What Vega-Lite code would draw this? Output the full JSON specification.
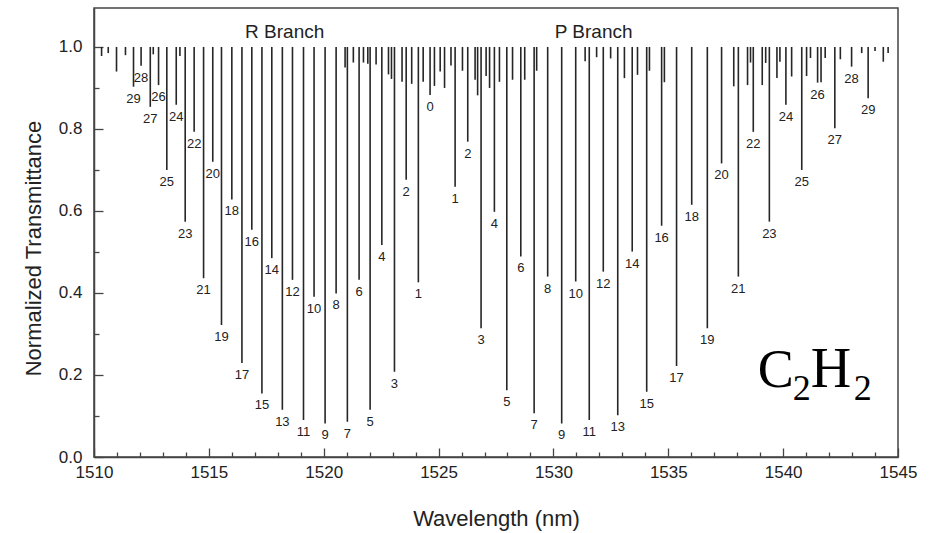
{
  "$schema": "https://vega.github.io/schema/vega-lite/v6.json",
  "width": 804,
  "height": 449,
  "autosize": {"type": "none"},
  "padding": {"left": 94, "top": 8, "right": 37, "bottom": 76},
  "background": "white",
  "config": {
    "view": {"stroke": "#444444", "strokeWidth": 1.5},
    "font": "Liberation Sans",
    "axis": {"domainColor": "#444444", "domainWidth": 1.5, "tickColor": "#444444", "tickWidth": 1.3, "grid": false, "labelColor": "#222222", "titleColor": "#222222", "titleFontWeight": "normal", "labelFont": "Liberation Sans", "titleFont": "Liberation Sans"}
  },
  "datasets": {
    "lines": [
      {"wl": 1510.33, "t": 0.978, "J": null},
      {"wl": 1510.62, "t": 0.985, "J": null},
      {"wl": 1510.98, "t": 0.94, "J": null},
      {"wl": 1511.37, "t": 0.98, "J": null},
      {"wl": 1511.72, "t": 0.903, "J": "29"},
      {"wl": 1512.05, "t": 0.954, "J": "28"},
      {"wl": 1512.45, "t": 0.854, "J": "27"},
      {"wl": 1512.58, "t": 0.982, "J": null},
      {"wl": 1512.81, "t": 0.907, "J": "26"},
      {"wl": 1513.17, "t": 0.7, "J": "25"},
      {"wl": 1513.58, "t": 0.859, "J": "24"},
      {"wl": 1513.74, "t": 0.978, "J": null},
      {"wl": 1513.97, "t": 0.574, "J": "23"},
      {"wl": 1514.36, "t": 0.793, "J": "22"},
      {"wl": 1514.77, "t": 0.436, "J": "21"},
      {"wl": 1515.17, "t": 0.72, "J": "20"},
      {"wl": 1515.55, "t": 0.322, "J": "19"},
      {"wl": 1516.0, "t": 0.628, "J": "18"},
      {"wl": 1516.44, "t": 0.229, "J": "17"},
      {"wl": 1516.87, "t": 0.554, "J": "16"},
      {"wl": 1517.31, "t": 0.155, "J": "15"},
      {"wl": 1517.74, "t": 0.485, "J": "14"},
      {"wl": 1518.2, "t": 0.115, "J": "13"},
      {"wl": 1518.64, "t": 0.432, "J": "12"},
      {"wl": 1519.12, "t": 0.09, "J": "11"},
      {"wl": 1519.58, "t": 0.391, "J": "10"},
      {"wl": 1520.06, "t": 0.082, "J": "9"},
      {"wl": 1520.54, "t": 0.399, "J": "8"},
      {"wl": 1520.93, "t": 0.95, "J": null},
      {"wl": 1521.03, "t": 0.086, "J": "7"},
      {"wl": 1521.29, "t": 0.962, "J": null},
      {"wl": 1521.54, "t": 0.432, "J": "6"},
      {"wl": 1521.73, "t": 0.962, "J": null},
      {"wl": 1521.92, "t": 0.959, "J": null},
      {"wl": 1522.02, "t": 0.115, "J": "5"},
      {"wl": 1522.28, "t": 0.957, "J": null},
      {"wl": 1522.53, "t": 0.517, "J": "4"},
      {"wl": 1522.82, "t": 0.933, "J": null},
      {"wl": 1522.95, "t": 0.922, "J": null},
      {"wl": 1523.08, "t": 0.208, "J": "3"},
      {"wl": 1523.41, "t": 0.915, "J": null},
      {"wl": 1523.59, "t": 0.676, "J": "2"},
      {"wl": 1523.83, "t": 0.91, "J": null},
      {"wl": 1524.12, "t": 0.426, "J": "1"},
      {"wl": 1524.33, "t": 0.915, "J": null},
      {"wl": 1524.63, "t": 0.883, "J": "0"},
      {"wl": 1524.82, "t": 0.905, "J": null},
      {"wl": 1525.07, "t": 0.94, "J": null},
      {"wl": 1525.26, "t": 0.9, "J": null},
      {"wl": 1525.54, "t": 0.955, "J": null},
      {"wl": 1525.72, "t": 0.659, "J": "1"},
      {"wl": 1526.04, "t": 0.942, "J": null},
      {"wl": 1526.27, "t": 0.769, "J": "2"},
      {"wl": 1526.59, "t": 0.92, "J": null},
      {"wl": 1526.7, "t": 0.882, "J": null},
      {"wl": 1526.85, "t": 0.314, "J": "3"},
      {"wl": 1527.07, "t": 0.929, "J": null},
      {"wl": 1527.22, "t": 0.9, "J": null},
      {"wl": 1527.43, "t": 0.598, "J": "4"},
      {"wl": 1527.65, "t": 0.915, "J": null},
      {"wl": 1527.97, "t": 0.163, "J": "5"},
      {"wl": 1528.22, "t": 0.92, "J": null},
      {"wl": 1528.58, "t": 0.489, "J": "6"},
      {"wl": 1528.75, "t": 0.92, "J": null},
      {"wl": 1529.16, "t": 0.107, "J": "7"},
      {"wl": 1529.27, "t": 0.942, "J": null},
      {"wl": 1529.75, "t": 0.44, "J": "8"},
      {"wl": 1530.36, "t": 0.082, "J": "9"},
      {"wl": 1530.97, "t": 0.428, "J": "10"},
      {"wl": 1531.38, "t": 0.965, "J": null},
      {"wl": 1531.56, "t": 0.09, "J": "11"},
      {"wl": 1531.88, "t": 0.975, "J": null},
      {"wl": 1532.17, "t": 0.452, "J": "12"},
      {"wl": 1532.49, "t": 0.972, "J": null},
      {"wl": 1532.8, "t": 0.102, "J": "13"},
      {"wl": 1533.09, "t": 0.924, "J": null},
      {"wl": 1533.43, "t": 0.501, "J": "14"},
      {"wl": 1533.66, "t": 0.932, "J": null},
      {"wl": 1534.06, "t": 0.159, "J": "15"},
      {"wl": 1534.18, "t": 0.942, "J": null},
      {"wl": 1534.71, "t": 0.564, "J": "16"},
      {"wl": 1534.83, "t": 0.914, "J": null},
      {"wl": 1535.36, "t": 0.222, "J": "17"},
      {"wl": 1536.02, "t": 0.615, "J": "18"},
      {"wl": 1536.7, "t": 0.314, "J": "19"},
      {"wl": 1537.32, "t": 0.716, "J": "20"},
      {"wl": 1537.85, "t": 0.904, "J": null},
      {"wl": 1538.05, "t": 0.44, "J": "21"},
      {"wl": 1538.45, "t": 0.907, "J": null},
      {"wl": 1538.58, "t": 0.962, "J": null},
      {"wl": 1538.7, "t": 0.793, "J": "22"},
      {"wl": 1539.09, "t": 0.907, "J": null},
      {"wl": 1539.24, "t": 0.961, "J": null},
      {"wl": 1539.4, "t": 0.574, "J": "23"},
      {"wl": 1539.73, "t": 0.924, "J": null},
      {"wl": 1539.86, "t": 0.964, "J": null},
      {"wl": 1540.12, "t": 0.859, "J": "24"},
      {"wl": 1540.37, "t": 0.928, "J": null},
      {"wl": 1540.81, "t": 0.7, "J": "25"},
      {"wl": 1541.02, "t": 0.929, "J": null},
      {"wl": 1541.19, "t": 0.973, "J": null},
      {"wl": 1541.5, "t": 0.913, "J": "26"},
      {"wl": 1541.65, "t": 0.914, "J": null},
      {"wl": 1541.83, "t": 0.973, "J": null},
      {"wl": 1542.25, "t": 0.802, "J": "27"},
      {"wl": 1542.49, "t": 0.97, "J": null},
      {"wl": 1542.98, "t": 0.952, "J": "28"},
      {"wl": 1543.42, "t": 0.985, "J": null},
      {"wl": 1543.7, "t": 0.875, "J": "29"},
      {"wl": 1544.0, "t": 0.99, "J": null},
      {"wl": 1544.36, "t": 0.964, "J": null},
      {"wl": 1544.57, "t": 0.985, "J": null}
    ],
    "branches": [
      {"name": "R Branch", "wl": 1518.3, "t": 1.023},
      {"name": "P Branch", "wl": 1531.75, "t": 1.023}
    ],
    "formula": [
      {"glyph": "C", "wl": 1538.9, "t": 0.171}
    ]
  },
  "resolve": {"axis": {"x": "independent", "y": "independent"}},
  "layer": [
    {
      "data": {"name": "lines"},
      "mark": {"type": "rule", "color": "#262626", "strokeWidth": 1.6},
      "encoding": {
        "x": {
          "field": "wl", "type": "quantitative",
          "scale": {"domain": [1510, 1545], "nice": false, "zero": false},
          "axis": {"orient": "bottom", "values": [1510, 1515, 1520, 1525, 1530, 1535, 1540, 1545], "format": "d", "tickSize": -9, "labelPadding": 16, "labelFontSize": 17, "title": "Wavelength (nm)", "titleFontSize": 22, "titleY": 68, "titleBaseline": "alphabetic", "labelFlush": false}
        },
        "y": {
          "field": "t", "type": "quantitative",
          "scale": {"domain": [0, 1.095], "nice": false, "zero": true},
          "axis": {"orient": "left", "values": [0, 0.2, 0.4, 0.6, 0.8, 1.0], "format": ".1f", "tickSize": -9, "labelPadding": 21, "labelFontSize": 17, "title": "Normalized Transmittance", "titleFontSize": 22, "titleX": -54, "titleY": 240, "titleBaseline": "alphabetic", "titleAngle": -90}
        },
        "y2": {"datum": 1}
      }
    },
    {
      "mark": {"type": "rule", "color": "#111111", "strokeWidth": 2.2},
      "encoding": {
        "x": {"datum": 1510, "type": "quantitative", "axis": {"orient": "bottom", "values": [1511, 1512, 1513, 1514, 1516, 1517, 1518, 1519, 1521, 1522, 1523, 1524, 1526, 1527, 1528, 1529, 1531, 1532, 1533, 1534, 1536, 1537, 1538, 1539, 1541, 1542, 1543, 1544], "labels": false, "domain": false, "tickSize": -5, "title": null}},
        "x2": {"datum": 1545},
        "y": {"datum": 1, "type": "quantitative", "axis": {"orient": "left", "values": [0.1, 0.3, 0.5, 0.7, 0.9], "labels": false, "domain": false, "tickSize": -5, "title": null}}
      }
    },
    {
      "data": {"name": "lines"},
      "transform": [{"filter": "datum.J != null"}],
      "mark": {"type": "text", "dy": 12, "baseline": "middle", "align": "center", "font": "Liberation Sans Narrow, Liberation Sans", "fontSize": 13, "color": "#222222"},
      "encoding": {
        "x": {"field": "wl", "type": "quantitative", "axis": null},
        "y": {"field": "t", "type": "quantitative", "axis": null},
        "text": {"field": "J"}
      }
    },
    {
      "data": {"name": "branches"},
      "mark": {"type": "text", "baseline": "alphabetic", "align": "center", "fontSize": 19, "color": "#222222"},
      "encoding": {
        "x": {"field": "wl", "type": "quantitative", "axis": null},
        "y": {"field": "t", "type": "quantitative", "axis": null},
        "text": {"field": "name"}
      }
    },
    {
      "data": {"name": "formula"},
      "layer": [
        {
          "mark": {"type": "text", "align": "left", "baseline": "alphabetic", "font": "Liberation Serif", "fontSize": 54, "color": "#000000"},
          "encoding": {"text": {"value": "C"}}
        },
        {
          "mark": {"type": "text", "align": "left", "baseline": "alphabetic", "dx": 35, "dy": 13, "font": "Liberation Serif", "fontSize": 36, "color": "#000000"},
          "encoding": {"text": {"value": "2"}}
        },
        {
          "mark": {"type": "text", "align": "left", "baseline": "alphabetic", "dx": 53, "font": "Liberation Serif", "fontSize": 56, "color": "#000000"},
          "encoding": {"text": {"value": "H"}}
        },
        {
          "mark": {"type": "text", "align": "left", "baseline": "alphabetic", "dx": 96, "dy": 13, "font": "Liberation Serif", "fontSize": 36, "color": "#000000"},
          "encoding": {"text": {"value": "2"}}
        }
      ],
      "encoding": {
        "x": {"field": "wl", "type": "quantitative", "axis": null},
        "y": {"field": "t", "type": "quantitative", "axis": null}
      }
    }
  ]
}
